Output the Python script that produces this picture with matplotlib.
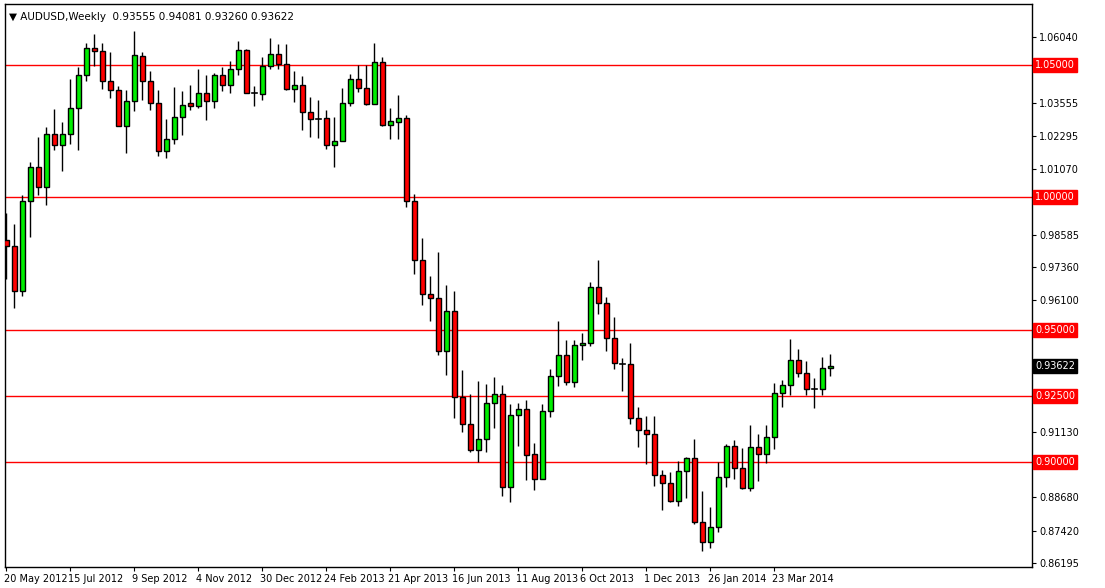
import matplotlib
matplotlib.use("Agg")
import matplotlib.pyplot as plt
from matplotlib.patches import Rectangle
from matplotlib.transforms import ScaledTranslation

# weekly AUDUSD candles, first week = 20 May 2012
opens = [0.9838, 0.9815, 0.9644, 0.9984, 1.0113, 1.0038, 1.0238, 1.0196, 1.0238, 1.0338,
         1.0462, 1.0561, 1.0552, 1.0437, 1.0403, 1.0270, 1.0362, 1.0534, 1.0437, 1.0354,
         1.0173, 1.0221, 1.0304, 1.0354, 1.0342, 1.0394, 1.0361, 1.0459, 1.0424, 1.0482,
         1.0554, 1.0394, 1.0389, 1.0496, 1.0538, 1.0503, 1.0408, 1.0424, 1.0320, 1.0297,
         1.0297, 1.0196, 1.0213, 1.0354, 1.0446, 1.0413, 1.0352, 1.0511, 1.0273, 1.0285,
         1.0297, 0.9984, 0.9763, 0.9635, 0.9620, 0.9421, 0.9569, 0.9244, 0.9144, 0.9045,
         0.9087, 0.9222, 0.9258, 0.8907, 0.9179, 0.9200, 0.9031, 0.8938, 0.9193, 0.9324,
         0.9403, 0.9301, 0.9441, 0.9448, 0.9661, 0.9599, 0.9470, 0.9373, 0.9370, 0.9165,
         0.9121, 0.9107, 0.8952, 0.8921, 0.8855, 0.8968, 0.9014, 0.8776, 0.8697, 0.8756,
         0.8945, 0.9062, 0.8979, 0.8903, 0.9059, 0.9031, 0.9096, 0.9262, 0.9290, 0.9386,
         0.9335, 0.9276, 0.9277, 0.93555]
highs = [0.9939, 0.9900, 1.0007, 1.0132, 1.0227, 1.0265, 1.0332, 1.0284, 1.0446, 1.0490,
         1.0583, 1.0614, 1.0583, 1.0546, 1.0418, 1.0403, 1.0625, 1.0549, 1.0475, 1.0403,
         1.0294, 1.0414, 1.0400, 1.0423, 1.0483, 1.0459, 1.0470, 1.0490, 1.0515, 1.0589,
         1.0558, 1.0418, 1.0527, 1.0599, 1.0579, 1.0579, 1.0477, 1.0458, 1.0376, 1.0368,
         1.0328, 1.0301, 1.0413, 1.0465, 1.0497, 1.0497, 1.0582, 1.0527, 1.0338, 1.0387,
         1.0308, 1.0011, 0.9844, 0.9701, 0.9793, 0.9668, 0.9645, 0.9348, 0.9258, 0.9308,
         0.9296, 0.9321, 0.9292, 0.9218, 0.9224, 0.9235, 0.9073, 0.9221, 0.9353, 0.9534,
         0.9462, 0.9461, 0.9487, 0.9679, 0.9761, 0.9624, 0.9546, 0.9393, 0.9451, 0.9208,
         0.9173, 0.9173, 0.8972, 0.8961, 0.9006, 0.9021, 0.9089, 0.8890, 0.8830, 0.8999,
         0.9069, 0.9085, 0.9052, 0.9139, 0.9107, 0.9142, 0.9300, 0.9310, 0.9465, 0.9427,
         0.9382, 0.9318, 0.9397, 0.94081]
lows = [0.9692, 0.9582, 0.9625, 0.9849, 1.0007, 0.9969, 1.0177, 1.0100, 1.0200, 1.0176,
        1.0437, 1.0494, 1.0407, 1.0375, 1.0268, 1.0165, 1.0323, 1.0368, 1.0330, 1.0154,
        1.0149, 1.0201, 1.0235, 1.0327, 1.0335, 1.0290, 1.0337, 1.0401, 1.0393, 1.0461,
        1.0392, 1.0345, 1.0365, 1.0483, 1.0483, 1.0403, 1.0359, 1.0255, 1.0228, 1.0224,
        1.0183, 1.0115, 1.0210, 1.0344, 1.0397, 1.0348, 1.0350, 1.0269, 1.0220, 1.0221,
        0.9962, 0.9710, 0.9593, 0.9531, 0.9403, 0.9327, 0.9165, 0.9113, 0.9038, 0.9001,
        0.9038, 0.9128, 0.8872, 0.8849, 0.9062, 0.8932, 0.8896, 0.8936, 0.9170, 0.9286,
        0.9290, 0.9282, 0.9387, 0.9437, 0.9559, 0.9421, 0.9353, 0.9270, 0.9144, 0.9058,
        0.8994, 0.8911, 0.8821, 0.8848, 0.8835, 0.8865, 0.8765, 0.8663, 0.8677, 0.8735,
        0.8906, 0.8938, 0.8900, 0.8893, 0.8927, 0.8996, 0.9049, 0.9208, 0.9255, 0.9323,
        0.9255, 0.9204, 0.9255, 0.93260]
closes = [0.9815, 0.9644, 0.9984, 1.0113, 1.0038, 1.0238, 1.0196, 1.0238, 1.0338, 1.0462,
          1.0561, 1.0552, 1.0437, 1.0403, 1.0270, 1.0362, 1.0537, 1.0437, 1.0354, 1.0173,
          1.0221, 1.0304, 1.0349, 1.0342, 1.0394, 1.0361, 1.0459, 1.0424, 1.0482, 1.0554,
          1.0394, 1.0393, 1.0496, 1.0538, 1.0503, 1.0408, 1.0424, 1.0320, 1.0296, 1.0296,
          1.0196, 1.0213, 1.0354, 1.0446, 1.0413, 1.0352, 1.0511, 1.0273, 1.0286, 1.0297,
          0.9984, 0.9763, 0.9635, 0.9620, 0.9421, 0.9569, 0.9244, 0.9144, 0.9045, 0.9087,
          0.9222, 0.9258, 0.8907, 0.9179, 0.9200, 0.9027, 0.8938, 0.9193, 0.9324, 0.9403,
          0.9301, 0.9441, 0.9448, 0.9661, 0.9599, 0.9470, 0.9373, 0.9372, 0.9165, 0.9121,
          0.9107, 0.8952, 0.8921, 0.8855, 0.8968, 0.9014, 0.8776, 0.8697, 0.8756, 0.8945,
          0.9062, 0.8979, 0.8903, 0.9059, 0.9031, 0.9096, 0.9262, 0.9290, 0.9386, 0.9335,
          0.9276, 0.9277, 0.9356, 0.93622]

date_labels = ["20 May 2012", "15 Jul 2012", "9 Sep 2012", "4 Nov 2012", "30 Dec 2012",
               "24 Feb 2013", "21 Apr 2013", "16 Jun 2013", "11 Aug 2013", "6 Oct 2013",
               "1 Dec 2013", "26 Jan 2014", "23 Mar 2014"]
price_ticks = [1.06040, 1.03555, 1.02295, 1.01070, 0.98585, 0.97360,
               0.96100, 0.91130, 0.88680, 0.87420, 0.86195]
levels = [1.05, 1.00, 0.95, 0.925, 0.90]

W, H = 1105, 588
fig = plt.figure(figsize=(W / 100, H / 100), dpi=100)
fig.patch.set_facecolor("white")
left, right, top, bottom = 5, 1032, 4, 567
ax = fig.add_axes([left / W, 1 - bottom / H, (right - left) / W, (bottom - top) / H])
ax.set_xlim(-0.15, (right - left) / 8.0 - 0.15)
ax.set_ylim(1.0604 - (bottom - 37) / 2650.5, 1.0604 + (37 - top) / 2650.5)

for lv in levels:
    ax.axhline(lv, color="red", lw=1, zorder=1)

bw = 0.62
for i, (o, h, l, c) in enumerate(zip(opens, highs, lows, closes)):
    ax.plot([i, i], [l, h], color="black", lw=1, zorder=2, solid_capstyle="butt")
    lo, hi = min(o, c), max(o, c)
    if hi - lo < 0.0003:
        ax.plot([i - bw / 2, i + bw / 2], [c, c], color="black", lw=1.2, zorder=3)
        continue
    col = "#00ee00" if c > o else "#ff0000"
    ax.add_patch(Rectangle((i - bw / 2, lo), bw, hi - lo, facecolor=col,
                           edgecolor="black", lw=1, zorder=3))

ax.yaxis.tick_right()
ax.set_yticks(price_ticks)
ax.set_yticklabels([f"{p:.5f}" for p in price_ticks], fontsize=7)
ax.tick_params(axis="y", length=3, pad=2)
ax.set_xticks(range(0, 8 * len(date_labels), 8))
ax.set_xticklabels(date_labels, fontsize=7, ha="left")
ax.tick_params(axis="x", length=3, pad=2)
for lbl in ax.get_xticklabels():
    lbl.set_transform(lbl.get_transform() + ScaledTranslation(-2 / 100, 0, fig.dpi_scale_trans))

for sp in ax.spines.values():
    sp.set_color("black")
    sp.set_linewidth(1)

for lv in levels:
    ax.text(1.003, lv, f"{lv:.5f}", transform=ax.get_yaxis_transform(), fontsize=7,
            color="white", va="center", ha="left", zorder=10,
            bbox=dict(boxstyle="square,pad=0.2", fc="red", ec="red"))
last = closes[-1]
ax.text(1.003, last, f"{last:.5f}", transform=ax.get_yaxis_transform(), fontsize=7,
        color="white", va="center", ha="left", zorder=10,
        bbox=dict(boxstyle="square,pad=0.2", fc="black", ec="black"))

ax.text(0.004, 0.985, "\u25BC AUDUSD,Weekly  %.5f %.5f %.5f %.5f"
        % (opens[-1], highs[-1], lows[-1], closes[-1]),
        transform=ax.transAxes, fontsize=7.5, va="top", ha="left")

fig.savefig("out.png", dpi=100)
